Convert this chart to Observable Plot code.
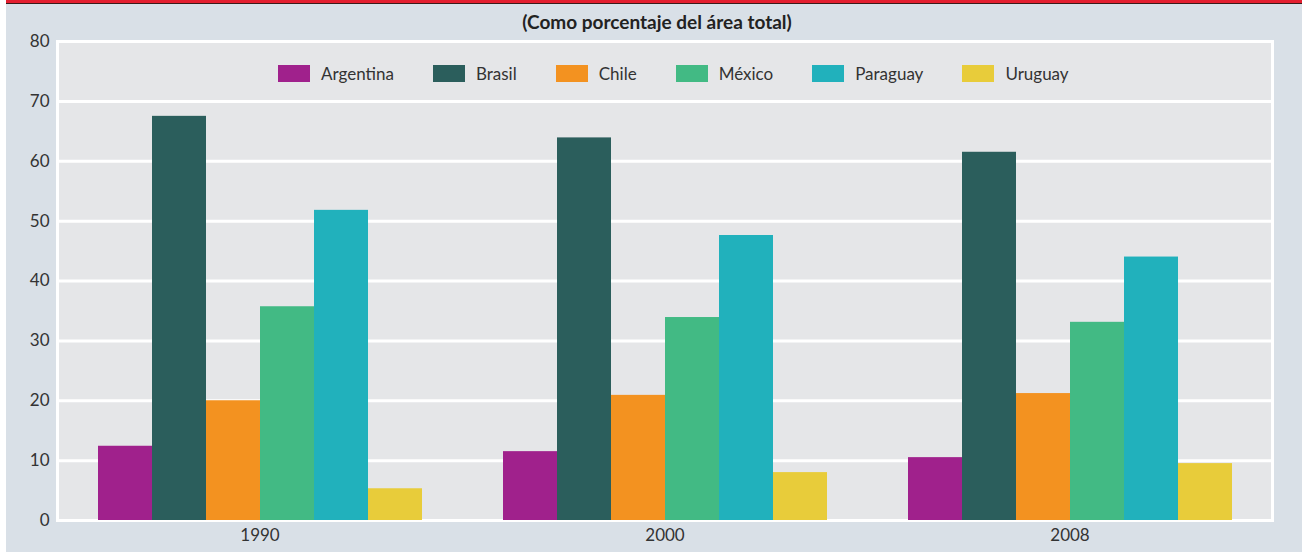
<!DOCTYPE html>
<html>
<head>
<meta charset="utf-8">
<script src="https://cdn.jsdelivr.net/npm/d3@7"></script>
<script src="https://cdn.jsdelivr.net/npm/@observablehq/plot@0.6"></script>
<style>
  html, body { margin: 0; padding: 0; background: #ffffff; }
  #wrap { position: absolute; left: 6px; top: 0; width: 1296px; height: 552px; background: #d9e0e7; overflow: hidden; font-family: Lato, "Open Sans", sans-serif; color: #333; }
  #redbar { height: 3px; background: #e41e2f; border-bottom: 1px solid #3a1a1a; }
  #title { position: absolute; top: 10px; left: 0; width: 1302px; text-align: center; font-weight: bold; font-size: 19px; line-height: 24px; color: #222; }
  #chart { position: absolute; top: 30px; left: 0; }
  #legend { position: absolute; top: 63px; left: 272px; display: flex; align-items: center; font-size: 17px; color: #333; }
  .item { display: flex; align-items: center; margin-right: 39px; }
  .sw { width: 32px; height: 17px; margin-right: 11px; }
</style>
</head>
<body>
<div id="wrap">
  <div id="redbar"></div>
  <div id="title">(Como porcentaje del área total)</div>
  <div id="chart"></div>
  <div id="legend"></div>
</div>
<script>
const years = ["1990", "2000", "2008"];
const countries = ["Argentina", "Brasil", "Chile", "México", "Paraguay", "Uruguay"];
const colors = ["#a0218c", "#2b5e5c", "#f39220", "#42ba84", "#21b1bc", "#e8cc3a"];
const argentina = [12.4, 11.5, 10.5];
const brasil = [67.5, 63.9, 61.5];
const chile = [20.0, 20.9, 21.2];
const mexico = [35.7, 33.9, 33.1];
const paraguay = [51.8, 47.6, 44.0];
const uruguay = [5.3, 8.0, 9.5];
const yTicks = [0, 10, 20, 30, 40, 50, 60, 70, 80];

const series = [argentina, brasil, chile, mexico, paraguay, uruguay];
const data = years.flatMap((yr, i) => countries.map((c, j) => ({year: yr, country: c, value: series[j][i]})));

const chart = Plot.plot({
  width: 1296,
  height: 522,
  marginTop: 11,
  marginBottom: 32,
  marginLeft: 51,
  marginRight: 30,
  style: {background: "transparent", fontFamily: "Lato, 'Open Sans', sans-serif", fontSize: "17px", color: "#333"},
  fx: {domain: years, padding: 0, label: null, axis: "bottom", tickSize: 0, tickPadding: 8},
  x: {domain: countries, paddingInner: 0, paddingOuter: 0.75, axis: null},
  y: {domain: [0, 80], ticks: yTicks, tickSize: 0, tickPadding: 8, label: null},
  color: {domain: countries, range: colors},
  marks: [
    Plot.frame({facet: "super", fill: "#e5e6e8"}),
    Plot.ruleY(yTicks, {stroke: "white", strokeWidth: 3}),
    Plot.frame({facet: "super", stroke: "white", strokeWidth: 3}),
    Plot.barY(data, {fx: "year", x: "country", y: "value", fill: "country"})
  ]
});
document.getElementById("chart").appendChild(chart);

const legend = document.getElementById("legend");
countries.forEach((c, i) => {
  const item = document.createElement("div");
  item.className = "item";
  const sw = document.createElement("div");
  sw.className = "sw";
  sw.style.background = colors[i];
  const t = document.createElement("span");
  t.textContent = c;
  item.appendChild(sw);
  item.appendChild(t);
  legend.appendChild(item);
});
</script>
</body>
</html>
